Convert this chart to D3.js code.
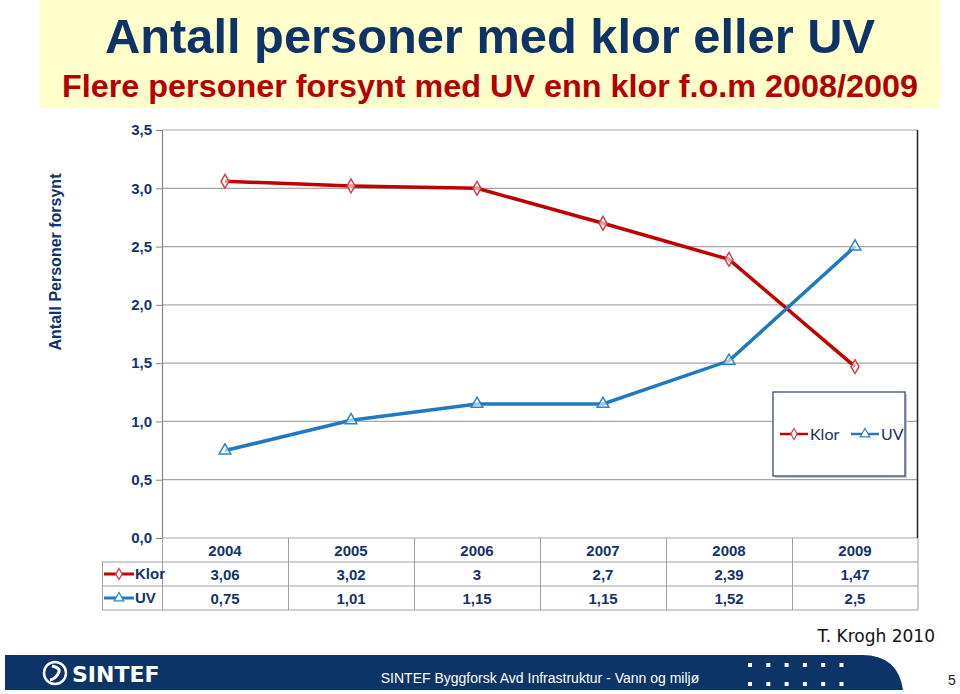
<!DOCTYPE html>
<html><head><meta charset="utf-8">
<script src="https://cdn.jsdelivr.net/npm/d3@7"></script>
<style>body{margin:0;background:#fff;}svg{display:block;}</style>
</head><body>
<script>
const years = ["2004","2005","2006","2007","2008","2009"];
const klor = [3.06, 3.02, 3, 2.7, 2.39, 1.47];
const uv = [0.75, 1.01, 1.15, 1.15, 1.52, 2.5];
const klorLabels = ["3,06","3,02","3","2,7","2,39","1,47"];
const uvLabels = ["0,75","1,01","1,15","1,15","1,52","2,5"];
const yTicks = [0,0.5,1,1.5,2,2.5,3,3.5];

const W=960,H=694;
const svg=d3.select("body").append("svg").attr("width",W).attr("height",H);
const navy="#14336b", red="#c00000", blue="#1f78c1";
const font="Liberation Sans, Arial, sans-serif";

// header
svg.append("rect").attr("x",40).attr("y",0).attr("width",900).attr("height",108).attr("fill","#ffffcc");
svg.append("text").attr("x",490).attr("y",53).attr("text-anchor","middle").attr("font-family",font)
 .attr("font-weight","bold").attr("font-size",48).attr("textLength",770).attr("lengthAdjust","spacingAndGlyphs")
 .attr("fill","#0f3366").text("Antall personer med klor eller UV");
svg.append("text").attr("x",490).attr("y",97).attr("text-anchor","middle").attr("font-family",font)
 .attr("font-weight","bold").attr("font-size",32).attr("textLength",856).attr("lengthAdjust","spacingAndGlyphs")
 .attr("fill","#b40000").text("Flere personer forsynt med UV enn klor f.o.m 2008/2009");

// scales
const x=d3.scaleBand().domain(years).range([162,918]);
const y=d3.scaleLinear().domain([0,3.5]).range([538,130]);
const cx=d=>x(d)+x.bandwidth()/2;

// gridlines
svg.append("g").selectAll("line").data(yTicks).join("line")
 .attr("x1",162).attr("x2",918).attr("y1",d=>y(d)).attr("y2",d=>y(d))
 .attr("stroke","#a6a6a6").attr("stroke-width",1.2);
// right border
svg.append("line").attr("x1",917.5).attr("x2",917.5).attr("y1",130).attr("y2",538).attr("stroke","#222").attr("stroke-width",1.5);

// y axis
const ya=svg.append("g").attr("transform","translate(162,0)")
 .call(d3.axisLeft(y).tickValues(yTicks).tickSize(6).tickPadding(4).tickFormat(d=>d3.format(".1f")(d).replace(".",",")));
ya.select(".domain").attr("stroke","#888").attr("stroke-width",1.2);
ya.selectAll(".tick line").attr("stroke","#888");
ya.selectAll("text").attr("font-family",font).attr("font-weight","bold").attr("font-size",15).attr("fill",navy);

svg.append("text").attr("transform","translate(61,262) rotate(-90)").attr("text-anchor","middle")
 .attr("font-family",font).attr("font-weight","bold").attr("font-size",16).attr("fill",navy).text("Antall Personer forsynt");

// lines
const line=d3.line().x((d,i)=>cx(years[i])).y(d=>y(d));
svg.append("path").datum(klor).attr("d",line).attr("fill","none").attr("stroke",red).attr("stroke-width",3.5);
svg.append("path").datum(uv).attr("d",line).attr("fill","none").attr("stroke",blue).attr("stroke-width",3.5);
const diamond=d3.symbol().type(d3.symbolDiamond).size(55);
const tri=d3.symbol().type(d3.symbolTriangle).size(60);
svg.append("g").selectAll("path").data(klor).join("path").attr("d",diamond)
 .attr("transform",(d,i)=>`translate(${cx(years[i])},${y(d)})`).attr("fill","#fff").attr("fill-opacity",0.6).attr("stroke","#d0404a").attr("stroke-width",1.5);
svg.append("g").selectAll("path").data(uv).join("path").attr("d",tri)
 .attr("transform",(d,i)=>`translate(${cx(years[i])},${y(d)})`).attr("fill","#fff").attr("fill-opacity",0.6).attr("stroke","#2a84c8").attr("stroke-width",1.5);

// data table
const tg=svg.append("g");
const gridC="#a0a0a8";
[562,586,610].forEach(yy=>tg.append("line").attr("x1",102).attr("x2",918).attr("y1",yy).attr("y2",yy).attr("stroke",gridC));
tg.append("line").attr("x1",102.5).attr("x2",102.5).attr("y1",562).attr("y2",610).attr("stroke",gridC);
tg.append("line").attr("x1",918).attr("x2",918).attr("y1",538).attr("y2",610).attr("stroke",gridC);
tg.selectAll(".vl").data(years).join("line").attr("class","vl")
 .attr("x1",d=>x(d)+0.5).attr("x2",d=>x(d)+0.5).attr("y1",538).attr("y2",610).attr("stroke",gridC);
const txt=(sel)=>sel.attr("font-family",font).attr("font-weight","bold").attr("font-size",15).attr("fill",navy).attr("text-anchor","middle");
tg.selectAll(".yr").data(years).join("text").attr("class","yr").attr("x",d=>cx(d)).attr("y",556).text(d=>d).call(txt);
tg.selectAll(".kl").data(klorLabels).join("text").attr("class","kl").attr("x",(d,i)=>cx(years[i])).attr("y",580).text(d=>d).call(txt);
tg.selectAll(".uvl").data(uvLabels).join("text").attr("class","uvl").attr("x",(d,i)=>cx(years[i])).attr("y",604).text(d=>d).call(txt);
function key(g,xx,yy,color,sym,mstroke,label,fs){
  g.append("line").attr("x1",xx).attr("x2",xx+30).attr("y1",yy).attr("y2",yy).attr("stroke",color).attr("stroke-width",3);
  g.append("path").attr("d",sym).attr("transform",`translate(${xx+15},${yy})`).attr("fill","#fff").attr("stroke",mstroke).attr("stroke-width",1.3);
  g.append("text").attr("x",xx+31).attr("y",yy+5).attr("font-family",font).attr("font-weight","bold").attr("font-size",fs).attr("fill",navy).text(label);
}
const d2=d3.symbol().type(d3.symbolDiamond).size(35), t2=d3.symbol().type(d3.symbolTriangle).size(40);
key(tg,104,574,red,d2,"#d0404a","Klor",15);
key(tg,104,598,blue,t2,"#2a84c8","UV",15);

// legend
const lg=svg.append("g");
lg.append("rect").attr("x",775).attr("y",394).attr("width",132).attr("height",84).attr("fill","#c8c8d0");
lg.append("rect").attr("x",773).attr("y",392).attr("width",132).attr("height",84).attr("fill","#fff").attr("stroke","#2a3f6a").attr("stroke-width",1.2);
function lkey(xx,yy,color,sym,mstroke,label){
  lg.append("line").attr("x1",xx).attr("x2",xx+28).attr("y1",yy).attr("y2",yy).attr("stroke",color).attr("stroke-width",2.5);
  lg.append("path").attr("d",sym).attr("transform",`translate(${xx+14},${yy})`).attr("fill","#fff").attr("stroke",mstroke).attr("stroke-width",1.2);
  lg.append("text").attr("x",xx+30).attr("y",yy+6).attr("font-family","Lato, 'Open Sans', sans-serif").attr("font-size",16).attr("fill","#1a2f5a").text(label);
}
lkey(780,434,red,d2,"#d0404a","Klor");
lkey(851,434,blue,t2,"#2a84c8","UV");

// footer
svg.append("text").attr("x",935).attr("y",642).attr("text-anchor","end").attr("font-family","'Comic Sans MS','DejaVu Sans',sans-serif")
 .attr("font-size",17).attr("fill","#111").text("T. Krogh 2010");
svg.append("path").attr("d","M5,655 L862,655 Q898,655 903,690 L5,690 Z").attr("fill","#0c3466");
svg.append("circle").attr("cx",55).attr("cy",673).attr("r",11).attr("fill","none").attr("stroke","#fff").attr("stroke-width",2.5);
svg.append("path").attr("d","M52,666 Q62,668 58,674 Q55,679 50,680").attr("fill","none").attr("stroke","#fff").attr("stroke-width",3);
svg.append("text").attr("x",72).attr("y",682).attr("font-family","'DejaVu Sans', sans-serif").attr("font-weight","bold").attr("font-size",22).attr("fill","#fff").text("SINTEF");
svg.append("text").attr("x",540).attr("y",683).attr("text-anchor","middle").attr("font-family",font).attr("font-size",14).attr("fill","#fff")
 .text("SINTEF Byggforsk Avd Infrastruktur - Vann og miljø");
const dots=[0,1,2,3,4,5];
[665,684].forEach(yy=>{
  svg.append("g").selectAll("rect").data(dots).join("rect").attr("x",d=>748+d*18.3).attr("y",yy-2).attr("width",4).attr("height",4).attr("fill","#fff");
});
svg.append("text").attr("x",952).attr("y",685).attr("text-anchor","middle").attr("font-family",font).attr("font-size",14).attr("fill","#222").text("5");
</script>
</body></html>
